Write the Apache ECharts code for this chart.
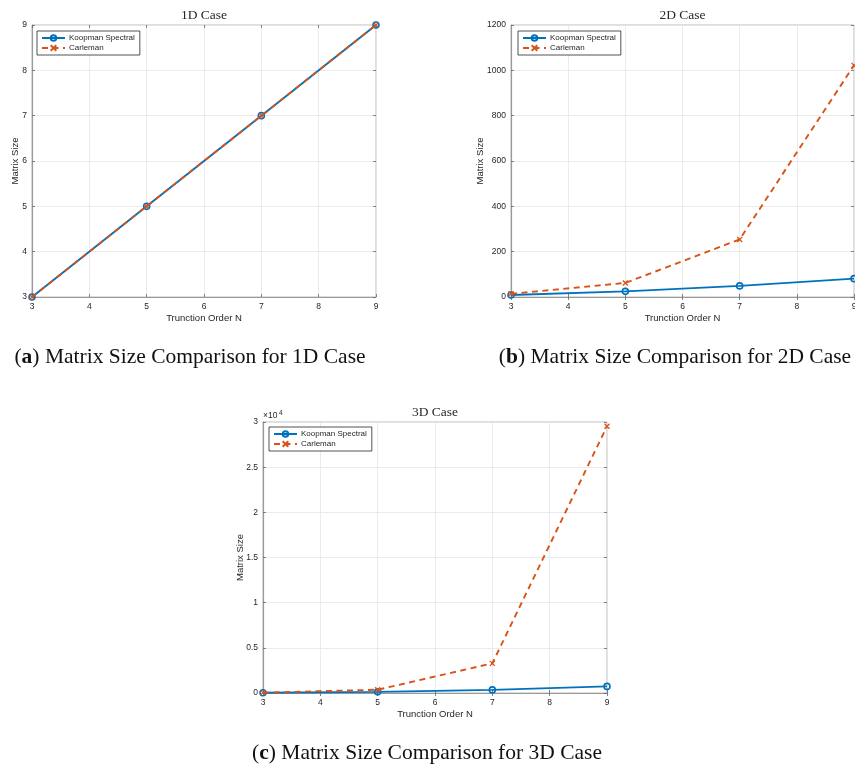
<!DOCTYPE html>
<html>
<head>
<meta charset="utf-8">
<script src="https://cdn.jsdelivr.net/npm/echarts@6/dist/echarts.min.js"></script>
<style>
  html, body { margin: 0; padding: 0; background: #ffffff; }
  #chart { width: 855px; height: 765px; }
</style>
</head>
<body>
<div id="chart"></div>
<script>
// Matrix sizes versus truncation order for the three cases
const truncationOrders = [3, 5, 7, 9];
const koopman1D = [3, 5, 7, 9];
const carleman1D = [3, 5, 7, 9];
const koopman2D = [9, 25, 49, 81];
const carleman2D = [14, 62, 254, 1022];
const koopman3D = [27, 125, 343, 729];
const carleman3D = [39, 363, 3279, 29523];

// Axis ranges and tick spacing
const xRange = { min: 3, max: 9, interval: 1 };
const yRange1D = { min: 3, max: 9, interval: 1 };
const yRange2D = { min: 0, max: 1200, interval: 200 };
const yRange3D = { min: 0, max: 30000, interval: 5000 };
const yScale3D = 10000;

// Text
const seriesNames = ['Koopman Spectral', 'Carleman'];
const panelTitles = ['1D Case', '2D Case', '3D Case'];
const captionLetters = ['a', 'b', 'c'];
const captionTexts = [
  'Matrix Size Comparison for 1D Case',
  'Matrix Size Comparison for 2D Case',
  'Matrix Size Comparison for 3D Case'
];
const xAxisName = 'Trunction Order N';
const yAxisName = 'Matrix Size';

const SANS = '"Liberation Sans", Arial, Helvetica, sans-serif';
const SERIF = '"Liberation Serif", "Times New Roman", serif';
const INK = '#262626';
const BLUE = '#0072BD';
const ORANGE = '#D95319';

const panelData = [
  { koopman: koopman1D, carleman: carleman1D, y: yRange1D, fmt: v => String(v) },
  { koopman: koopman2D, carleman: carleman2D, y: yRange2D, fmt: v => String(v) },
  { koopman: koopman3D, carleman: carleman3D, y: yRange3D, fmt: v => String(v / yScale3D) }
];

// Plot boxes (pixels)
const boxes = [
  { left: 32, top: 25, width: 344, height: 272, yNameGap: 16.5 },
  { left: 511, top: 25, width: 343, height: 272, yNameGap: 31 },
  { left: 263, top: 422, width: 344, height: 271, yNameGap: 23 }
];
const legendPos = [
  { left: 37, top: 31 },
  { left: 518, top: 31 },
  { left: 269, top: 427 }
];
const captionPos = [
  { x: 190, y: 357 },
  { x: 675, y: 357 },
  { x: 427, y: 753 }
];

const pairs = (xs, ys) => xs.map((x, i) => [x, ys[i]]);

const grids = [], xAxes = [], yAxes = [], series = [], legends = [], graphics = [];

boxes.forEach((b, i) => {
  const d = panelData[i];
  grids.push({
    left: b.left, top: b.top, width: b.width, height: b.height,
    show: true, borderColor: '#bdbdbd', borderWidth: 1,
    backgroundColor: 'transparent', outerBoundsMode: 'none'
  });
  const tick = { show: true, inside: true, length: 3, lineStyle: { color: '#666', width: 0.8 } };
  // bottom / top x axes
  xAxes.push({
    type: 'value', gridIndex: i, position: 'bottom',
    min: xRange.min, max: xRange.max, interval: xRange.interval,
    axisLine: { show: true, onZero: false, lineStyle: { color: '#9a9a9a', width: 1.2 } },
    axisTick: tick,
    axisLabel: { color: INK, fontSize: 8.5, fontFamily: SANS, margin: 5, showMinLabel: true, showMaxLabel: true },
    splitLine: { show: true, lineStyle: { color: '#e6e6e6', width: 0.8 } }
  });
  xAxes.push({
    type: 'value', gridIndex: i, position: 'top',
    min: xRange.min, max: xRange.max, interval: xRange.interval,
    axisLine: { show: false }, axisTick: tick,
    axisLabel: { show: false }, splitLine: { show: false }
  });
  // left / right y axes
  yAxes.push({
    type: 'value', gridIndex: i, position: 'left',
    min: d.y.min, max: d.y.max, interval: d.y.interval,
    axisLine: { show: true, onZero: false, lineStyle: { color: '#9a9a9a', width: 1.2 } },
    axisTick: tick,
    axisLabel: { color: INK, fontSize: 8.5, fontFamily: SANS, margin: 5, formatter: d.fmt, showMinLabel: true, showMaxLabel: true },
    splitLine: { show: true, lineStyle: { color: '#e6e6e6', width: 0.8 } }
  });
  yAxes.push({
    type: 'value', gridIndex: i, position: 'right',
    min: d.y.min, max: d.y.max, interval: d.y.interval,
    axisLine: { show: false }, axisTick: tick,
    axisLabel: { show: false }, splitLine: { show: false }
  });

  series.push({
    name: seriesNames[0], type: 'line',
    xAxisIndex: 2 * i, yAxisIndex: 2 * i,
    data: pairs(truncationOrders, d.koopman),
    symbol: 'circle', symbolSize: 6, showAllSymbol: true,
    lineStyle: { color: BLUE, width: 1.9 },
    itemStyle: { color: 'rgba(255,255,255,0)', borderColor: BLUE, borderWidth: 1.6 },
    emphasis: { disabled: true }, z: 3
  });
  series.push({
    name: seriesNames[1], type: 'line',
    xAxisIndex: 2 * i, yAxisIndex: 2 * i,
    data: pairs(truncationOrders, d.carleman),
    symbol: 'path://M0,0L10,10M10,0L0,10', symbolSize: 5, showAllSymbol: true,
    lineStyle: { color: ORANGE, width: 1.9, type: [6, 4.5] },
    itemStyle: { color: 'rgba(255,255,255,0)', borderColor: ORANGE, borderWidth: 1.3 },
    emphasis: { disabled: true }, z: 4
  });

  legends.push({
    data: seriesNames, orient: 'vertical',
    left: legendPos[i].left, top: legendPos[i].top,
    padding: [3, 5, 3, 4], itemGap: 2, itemWidth: 23, itemHeight: 7,
    backgroundColor: '#ffffff', borderColor: INK, borderWidth: 0.8, borderRadius: 0,
    textStyle: { color: INK, fontSize: 8, fontFamily: SANS, padding: [0, 0, 0, -1] },
    selectedMode: false
  });

  const cx = b.left + b.width / 2;
  const cy = b.top + b.height / 2;
  // panel title
  graphics.push({
    type: 'text', x: cx, y: b.top - 10,
    style: { text: panelTitles[i], fill: INK, fontSize: 13.5, fontFamily: SERIF, align: 'center', verticalAlign: 'middle' }
  });
  // axis names
  graphics.push({
    type: 'text', x: cx, y: b.top + b.height + 21,
    style: { text: xAxisName, fill: INK, fontSize: 9.5, fontFamily: SANS, align: 'center', verticalAlign: 'middle' }
  });
  graphics.push({
    type: 'text', x: b.left - b.yNameGap, y: cy, rotation: Math.PI / 2,
    style: { text: yAxisName, fill: INK, fontSize: 9.5, fontFamily: SANS, align: 'center', verticalAlign: 'middle' }
  });
  // caption
  graphics.push({
    type: 'text', x: captionPos[i].x, y: captionPos[i].y,
    style: {
      text: '({b|' + captionLetters[i] + '}) ' + captionTexts[i],
      fill: '#111', fontSize: 21.5, fontFamily: SERIF, align: 'center', verticalAlign: 'middle',
      rich: { b: { fontSize: 21.5, fontFamily: SERIF, fontWeight: 'bold', fill: '#111' } }
    }
  });
});

// exponent marker above the 3D y axis
graphics.push({
  type: 'text', x: boxes[2].left, y: boxes[2].top - 6,
  style: { text: '\u00d710', fill: INK, fontSize: 8.5, fontFamily: SANS, align: 'left', verticalAlign: 'middle' }
});
graphics.push({
  type: 'text', x: boxes[2].left + 16, y: boxes[2].top - 9,
  style: { text: '4', fill: INK, fontSize: 6.5, fontFamily: SANS, align: 'left', verticalAlign: 'middle' }
});

const chart = echarts.init(document.getElementById('chart'), null, { renderer: 'canvas' });
chart.setOption({
  animation: false,
  backgroundColor: '#ffffff',
  grid: grids,
  xAxis: xAxes,
  yAxis: yAxes,
  legend: legends,
  series: series,
  graphic: graphics
});
</script>
</body>
</html>
